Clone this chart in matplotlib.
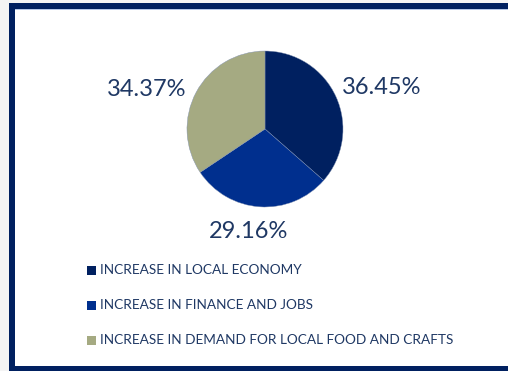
import matplotlib.pyplot as plt
from matplotlib.patches import Rectangle

plt.rcParams['font.family'] = ['Lato', 'DejaVu Sans']

# data
categories = ['INCREASE IN LOCAL ECONOMY',
              'INCREASE IN FINANCE AND JOBS',
              'INCREASE IN DEMAND FOR LOCAL FOOD AND CRAFTS']
shares = [36.45, 29.16, 34.37]
colors = ['#002060', '#002F8E', '#A5AA82']
text_col = '#1F3864'

W, H = 508, 371
fig = plt.figure(figsize=(W / 100, H / 100), dpi=100)
fig.patch.set_facecolor('#f4f4f4')

# background + frame, in pixel coords
bg = fig.add_axes([0, 0, 1, 1])
bg.set_xlim(0, W)
bg.set_ylim(H, 0)
bg.axis('off')
bg.add_patch(Rectangle((9, 3), W, H, facecolor='white', edgecolor='none'))
bg.add_patch(Rectangle((9, 3), W, 6, facecolor='#002060', edgecolor='none'))
bg.add_patch(Rectangle((9, 9), W, 1, facecolor='#b4c6e7', edgecolor='none'))
bg.add_patch(Rectangle((9, 3), 6, H, facecolor='#002060', edgecolor='none'))
bg.add_patch(Rectangle((9, 366), W, 10, facecolor='#002060', edgecolor='none'))

# pie
cx, cy, r = 265, 129, 78
ax = fig.add_axes([(cx - r) / W, (H - cy - r) / H, 2 * r / W, 2 * r / H])
ax.pie(shares, colors=colors, startangle=90, counterclock=False, radius=1,
       wedgeprops=dict(linewidth=0.3, edgecolor='#8090b0'))
ax.set_xlim(-1, 1)
ax.set_ylim(-1, 1)
ax.set_aspect('equal')
ax.axis('off')

# value labels
label_pos = [(382, 88), (249, 231), (147, 90)]
for v, (x, y) in zip(shares, label_pos):
    bg.text(x, y, '%.2f%%' % v, ha='center', va='center', fontsize=17, color=text_col)

# legend
rows_y = [270, 305, 340]
for cat, col, y in zip(categories, colors, rows_y):
    bg.add_patch(Rectangle((87, y - 4.5), 9, 9, facecolor=col, edgecolor='none'))
    bg.text(100, y, cat, ha='left', va='center', fontsize=9.8, color=text_col)

plt.savefig('out.png', dpi=100, facecolor=fig.get_facecolor())
